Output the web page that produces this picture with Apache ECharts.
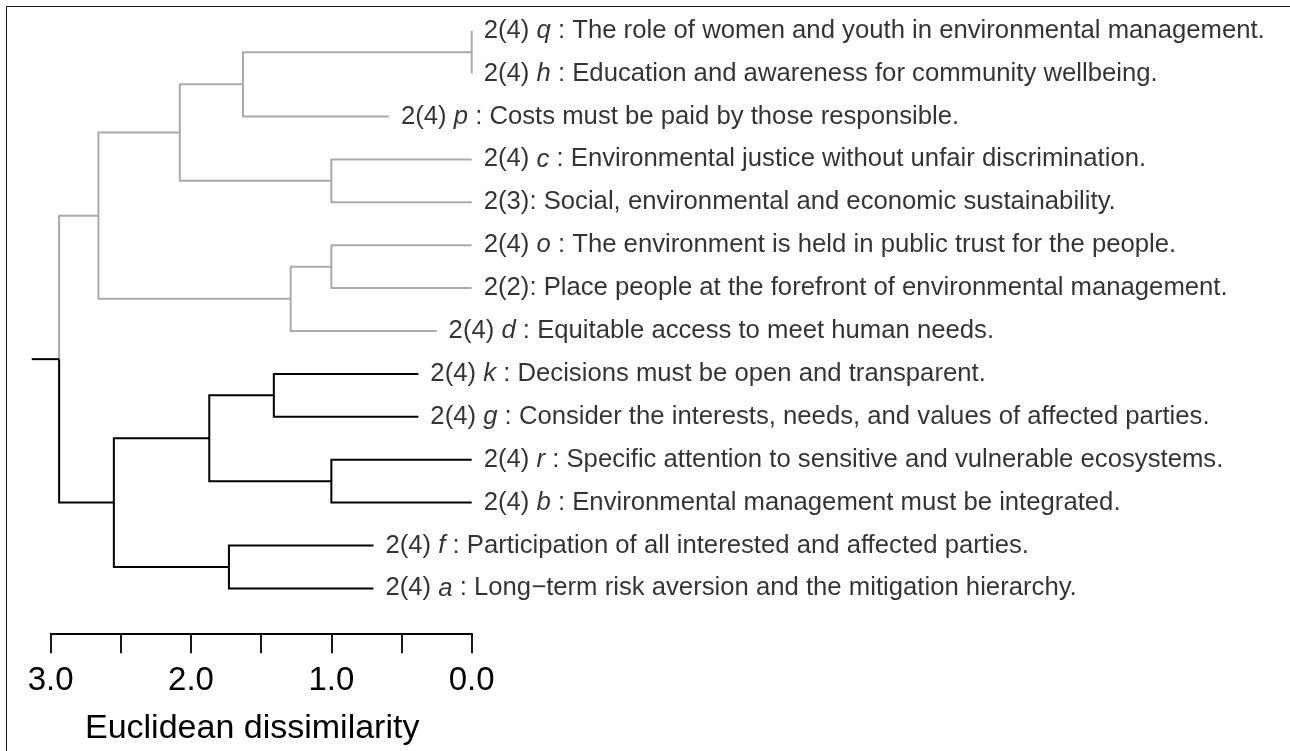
<!DOCTYPE html>
<html>
<head>
<meta charset="utf-8">
<script src="https://cdn.jsdelivr.net/npm/echarts@6/dist/echarts.min.js"></script>
<style>
  html, body { margin: 0; padding: 0; background: #fff; }
  #frame {
    position: absolute; left: 6px; top: 6px; width: 1284px; height: 745px;
    border-top: 1.5px solid #1a1a1a; border-left: 1.5px solid #1a1a1a; box-sizing: border-box;
  }
  #chart { position: absolute; left: 0; top: 0; width: 1290px; height: 751px; }
</style>
</head>
<body>
<div id="frame"></div>
<div id="chart"></div>
<script>
// leaves, top to bottom
const leafCodes = ['2(4)', '2(4)', '2(4)', '2(4)', '2(3)', '2(4)', '2(2)', '2(4)', '2(4)', '2(4)', '2(4)', '2(4)', '2(4)', '2(4)'];
const leafLetters = ['q', 'h', 'p', 'c', '', 'o', '', 'd', 'k', 'g', 'r', 'b', 'f', 'a'];
const leafTexts = [
  'The role of women and youth in environmental management.',
  'Education and awareness for community wellbeing.',
  'Costs must be paid by those responsible.',
  'Environmental justice without unfair discrimination.',
  'Social, environmental and economic sustainability.',
  'The environment is held in public trust for the people.',
  'Place people at the forefront of environmental management.',
  'Equitable access to meet human needs.',
  'Decisions must be open and transparent.',
  'Consider the interests, needs, and values of affected parties.',
  'Specific attention to sensitive and vulnerable ecosystems.',
  'Environmental management must be integrated.',
  'Participation of all interested and affected parties.',
  'Long\u2212term risk aversion and the mitigation hierarchy.'
];
// height where each leaf's branch ends
const leafHeights = [0, 0, 0.59, 0, 0, 0, 0, 0.25, 0.38, 0.38, 0, 0, 0.70, 0.70];

// merges, hclust style: negative = leaf (1-based), positive = earlier merge
const mergeA = [-1, -4, -6, -11, -9, 1, 3, -13, 5, 6, 9, 10, 12];
const mergeB = [-2, -5, -7, -12, -10, -3, -8, -14, 4, 2, 8, 7, 11];
const mergeHeights = [0.0, 1.0, 1.0, 1.0, 1.41, 1.63, 1.29, 1.73, 1.87, 2.08, 2.55, 2.66, 2.94];
const rootStub = 3.135;

const xTicks = [0, 0.5, 1, 1.5, 2, 2.5, 3];
const branchColors = ['#aaaaaa', '#000000'];

const FONT = '"Liberation Sans", Arial, Helvetica, sans-serif';

const nodeY = [];
function ref(v) {
  if (v < 0) return { h: leafHeights[-v - 1], y: -v - 1 };
  return { h: mergeHeights[v - 1], y: nodeY[v - 1] };
}
mergeA.forEach((a, k) => {
  nodeY[k] = (ref(a).y + ref(mergeB[k]).y) / 2;
});

// colour each merge by which top cluster it sits in
const last = mergeA.length - 1;
const nodeColor = [];
[mergeA[last], mergeB[last]].forEach((c, i) => {
  if (c > 0) nodeColor[c - 1] = branchColors[i];
});
for (let k = last - 1; k >= 0; k--) {
  [mergeA[k], mergeB[k]].forEach((c) => {
    if (c > 0) nodeColor[c - 1] = nodeColor[k];
  });
}

const segments = [];
for (let k = 0; k < last; k++) {
  const a = ref(mergeA[k]);
  const b = ref(mergeB[k]);
  const h = mergeHeights[k];
  segments.push({
    coords: [[a.h, a.y], [h, a.y], [h, b.y], [b.h, b.y]],
    lineStyle: { color: nodeColor[k] },
  });
}
{
  const a = ref(mergeA[last]);
  const b = ref(mergeB[last]);
  const h = mergeHeights[last];
  const y = nodeY[last];
  segments.push({ coords: [[a.h, a.y], [h, a.y], [h, y]], lineStyle: { color: branchColors[0] } });
  segments.push({ coords: [[h, y], [h, b.y], [b.h, b.y]], lineStyle: { color: branchColors[1] } });
  segments.push({ coords: [[rootStub, y], [h, y]], lineStyle: { color: branchColors[1] } });
}

const leafPoints = leafHeights.map((h, i) => [h, i]);

const chart = echarts.init(document.getElementById('chart'));
chart.setOption({
  animation: false,
  grid: {
    left: 50.7,
    right: 818.3,
    top: 30.7,
    bottom: 162.6,
    outerBoundsMode: 'none',
  },
  xAxis: {
    type: 'value',
    inverse: true,
    min: xTicks[0],
    max: xTicks[xTicks.length - 1],
    interval: 0.5,
    position: 'bottom',
    offset: 44.9,
    axisLine: { onZero: false, lineStyle: { color: '#000', width: 1.8 } },
    axisTick: { length: 20, lineStyle: { color: '#000', width: 1.8 } },
    axisLabel: {
      margin: 31,
      fontSize: 33,
      color: '#000',
      fontFamily: FONT,
      showMinLabel: true,
      showMaxLabel: true,
      formatter: (v) => (v % 1 === 0 ? v.toFixed(1) : ''),
    },
    splitLine: { show: false },
    name: 'Euclidean dissimilarity',
    nameLocation: 'middle',
    nameGap: 78,
    nameTextStyle: { fontSize: 34, color: '#000', fontFamily: FONT, padding: [0, 18, 0, 0] },
  },
  yAxis: {
    type: 'value',
    inverse: true,
    min: 0,
    max: leafCodes.length - 1,
    show: false,
  },
  series: [
    {
      type: 'lines',
      coordinateSystem: 'cartesian2d',
      polyline: true,
      clip: false,
      silent: true,
      lineStyle: { width: 2, opacity: 1 },
      data: segments,
    },
    {
      type: 'scatter',
      symbolSize: 0,
      silent: true,
      clip: false,
      data: leafPoints,
      label: {
        show: true,
        position: 'right',
        distance: 12,
        color: '#000',
        fontSize: 25.7,
        fontFamily: FONT,
        formatter: (p) => {
          const i = p.dataIndex;
          if (leafLetters[i]) return leafCodes[i] + ' {i|' + leafLetters[i] + '} : ' + leafTexts[i];
          return leafCodes[i] + ': ' + leafTexts[i];
        },
        rich: {
          i: { fontStyle: 'italic', fontSize: 25.7, fontFamily: FONT, color: '#000' },
        },
      },
    },
  ],
});
</script>
</body>
</html>
